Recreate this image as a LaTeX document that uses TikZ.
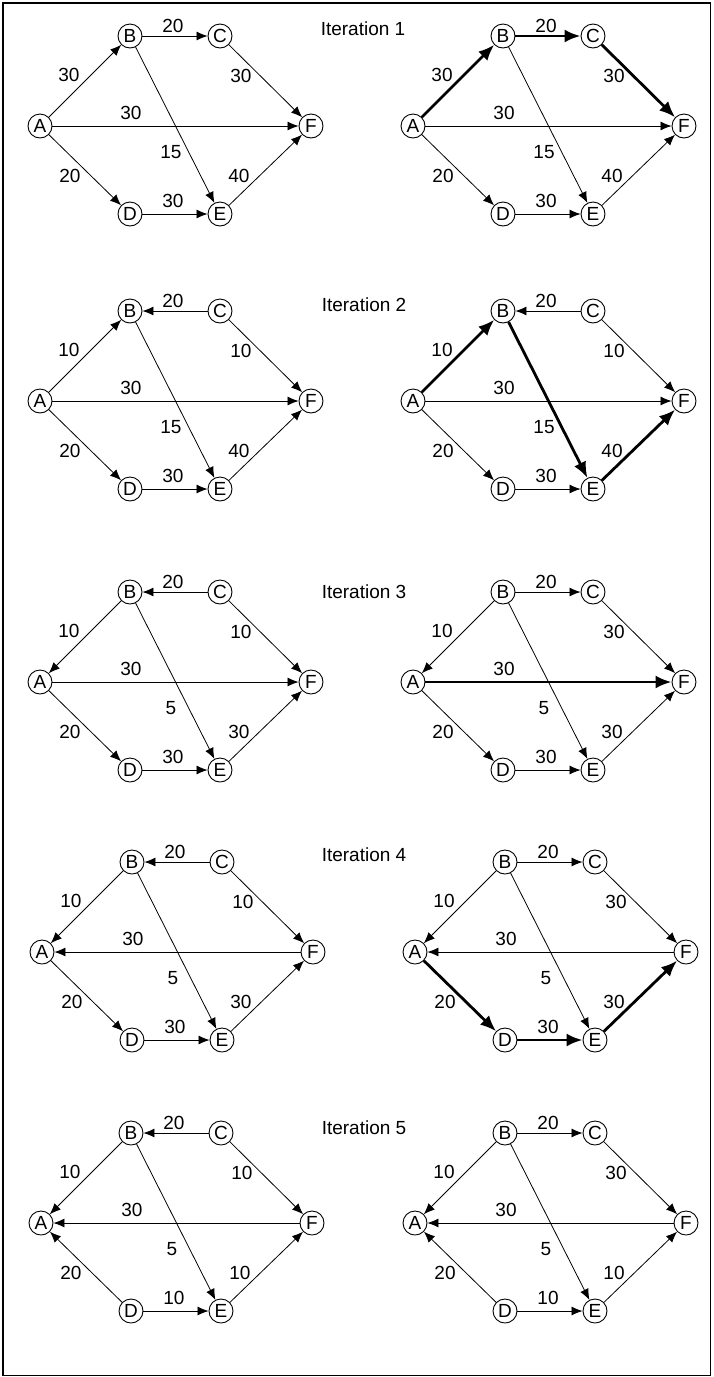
\documentclass[tikz,border=0pt]{standalone}
\usepackage{fontspec}
\setmainfont{Liberation Sans}
\usetikzlibrary{arrows.meta}
\tikzset{
  nd/.style={circle,draw,line width=0.9pt,inner sep=0pt,minimum size=24pt,font=\fontsize{19}{20}\selectfont},
  lb/.style={inner sep=0pt,font=\fontsize{19}{20}\selectfont},
  ttl/.style={inner sep=0pt,font=\fontsize{19}{20}\selectfont},
  ed/.style={line width=0.8pt,-{Latex[length=11pt,width=9pt]}},
  hot/.style={line width=2.8pt,-{Latex[length=16pt,width=13pt]}},
}
\newcommand\netnodes[3]{%
  \begin{scope}[shift={(#2,#3)}]
    \node[nd] (#1A) at (0,0) {A};
    \node[nd] (#1B) at (90,-90) {B};
    \node[nd] (#1C) at (180,-90) {C};
    \node[nd] (#1F) at (271,0) {F};
    \node[nd] (#1D) at (90,88) {D};
    \node[nd] (#1E) at (180,88) {E};
  \end{scope}}
% labels: AB BC CF AF BE AD DE EF
\newcommand\netlabels[3]{%
  \begin{scope}[shift={(#2,#3)}]
    \node[lb] (#1lAB) at (29,-51) {\labAB};
    \node[lb] (#1lBC) at (133,-100) {\labBC};
    \node[lb] (#1lCF) at (201,-50) {\labCF};
    \node[lb] (#1lAF) at (91,-13) {\labAF};
    \node[lb] (#1lBE) at (131,26) {\labBE};
    \node[lb] (#1lAD) at (30,50) {\labAD};
    \node[lb] (#1lDE) at (133,75) {\labDE};
    \node[lb] (#1lEF) at (199,50) {\labEF};
  \end{scope}}
\newcommand\setlabs[8]{\def\labAB{#1}\def\labBC{#2}\def\labCF{#3}\def\labAF{#4}\def\labBE{#5}\def\labAD{#6}\def\labDE{#7}\def\labEF{#8}}
\begin{document}
\begin{tikzpicture}[x=1pt,y=-1pt]
\useasboundingbox (0,0) rectangle (713,1377);
\draw[line width=1.3pt] (3,3) rectangle (710.5,1375.5);

% titles
\node[ttl] (t1) at (363,29) {Iteration 1};
\node[ttl] (t2) at (364,305) {Iteration 2};
\node[ttl] (t3) at (364,592) {Iteration 3};
\node[ttl] (t4) at (364,855) {Iteration 4};
\node[ttl] (t5) at (364,1128) {Iteration 5};

% ---------- Iteration 1 ----------
\setlabs{30}{20}{30}{30}{15}{20}{30}{40}
\netnodes{a}{40}{126}
\netlabels{a}{40}{126}
\draw[ed] (aA) -- (aB);
\draw[ed] (aB) -- (aC);
\draw[ed] (aC) -- (aF);
\draw[ed] (aA) -- (aF);
\draw[ed] (aB) -- (aE);
\draw[ed] (aA) -- (aD);
\draw[ed] (aD) -- (aE);
\draw[ed] (aE) -- (aF);

\netnodes{b}{413}{126}
\netlabels{b}{413}{126}
\draw[hot] (bA) -- (bB);
\draw[hot] (bB) -- (bC);
\draw[hot] (bC) -- (bF);
\draw[ed] (bA) -- (bF);
\draw[ed] (bB) -- (bE);
\draw[ed] (bA) -- (bD);
\draw[ed] (bD) -- (bE);
\draw[ed] (bE) -- (bF);

% ---------- Iteration 2 ----------
\setlabs{10}{20}{10}{30}{15}{20}{30}{40}
\netnodes{c}{40}{401}
\netlabels{c}{40}{401}
\draw[ed] (cA) -- (cB);
\draw[ed] (cC) -- (cB);
\draw[ed] (cC) -- (cF);
\draw[ed] (cA) -- (cF);
\draw[ed] (cB) -- (cE);
\draw[ed] (cA) -- (cD);
\draw[ed] (cD) -- (cE);
\draw[ed] (cE) -- (cF);

\netnodes{d}{413}{401}
\netlabels{d}{413}{401}
\draw[hot] (dA) -- (dB);
\draw[ed] (dC) -- (dB);
\draw[ed] (dC) -- (dF);
\draw[ed] (dA) -- (dF);
\draw[hot] (dB) -- (dE);
\draw[ed] (dA) -- (dD);
\draw[ed] (dD) -- (dE);
\draw[hot] (dE) -- (dF);

% ---------- Iteration 3 ----------
\setlabs{10}{20}{10}{30}{5}{20}{30}{30}
\netnodes{e}{40}{682}
\netlabels{e}{40}{682}
\draw[ed] (eB) -- (eA);
\draw[ed] (eC) -- (eB);
\draw[ed] (eC) -- (eF);
\draw[ed] (eA) -- (eF);
\draw[ed] (eB) -- (eE);
\draw[ed] (eA) -- (eD);
\draw[ed] (eD) -- (eE);
\draw[ed] (eE) -- (eF);

\setlabs{10}{20}{30}{30}{5}{20}{30}{30}
\netnodes{f}{413}{682}
\netlabels{f}{413}{682}
\draw[ed] (fB) -- (fA);
\draw[ed] (fB) -- (fC);
\draw[ed] (fC) -- (fF);
\draw[hot] (fA) -- (fF);
\draw[ed] (fB) -- (fE);
\draw[ed] (fA) -- (fD);
\draw[ed] (fD) -- (fE);
\draw[ed] (fE) -- (fF);

% ---------- Iteration 4 ----------
\setlabs{10}{20}{10}{30}{5}{20}{30}{30}
\netnodes{g}{42}{952}
\netlabels{g}{42}{952}
\draw[ed] (gB) -- (gA);
\draw[ed] (gC) -- (gB);
\draw[ed] (gC) -- (gF);
\draw[ed] (gF) -- (gA);
\draw[ed] (gB) -- (gE);
\draw[ed] (gA) -- (gD);
\draw[ed] (gD) -- (gE);
\draw[ed] (gE) -- (gF);

\setlabs{10}{20}{30}{30}{5}{20}{30}{30}
\netnodes{h}{415}{952}
\netlabels{h}{415}{952}
\draw[ed] (hB) -- (hA);
\draw[ed] (hB) -- (hC);
\draw[ed] (hC) -- (hF);
\draw[ed] (hF) -- (hA);
\draw[ed] (hB) -- (hE);
\draw[hot] (hA) -- (hD);
\draw[hot] (hD) -- (hE);
\draw[hot] (hE) -- (hF);

% ---------- Iteration 5 ----------
\setlabs{10}{20}{10}{30}{5}{20}{10}{10}
\netnodes{i}{41}{1223}
\netlabels{i}{41}{1223}
\draw[ed] (iB) -- (iA);
\draw[ed] (iC) -- (iB);
\draw[ed] (iC) -- (iF);
\draw[ed] (iF) -- (iA);
\draw[ed] (iB) -- (iE);
\draw[ed] (iD) -- (iA);
\draw[ed] (iD) -- (iE);
\draw[ed] (iE) -- (iF);

\setlabs{10}{20}{30}{30}{5}{20}{10}{10}
\netnodes{j}{415}{1223}
\netlabels{j}{415}{1223}
\draw[ed] (jB) -- (jA);
\draw[ed] (jB) -- (jC);
\draw[ed] (jC) -- (jF);
\draw[ed] (jF) -- (jA);
\draw[ed] (jB) -- (jE);
\draw[ed] (jD) -- (jA);
\draw[ed] (jD) -- (jE);
\draw[ed] (jE) -- (jF);
\end{tikzpicture}
\end{document}
